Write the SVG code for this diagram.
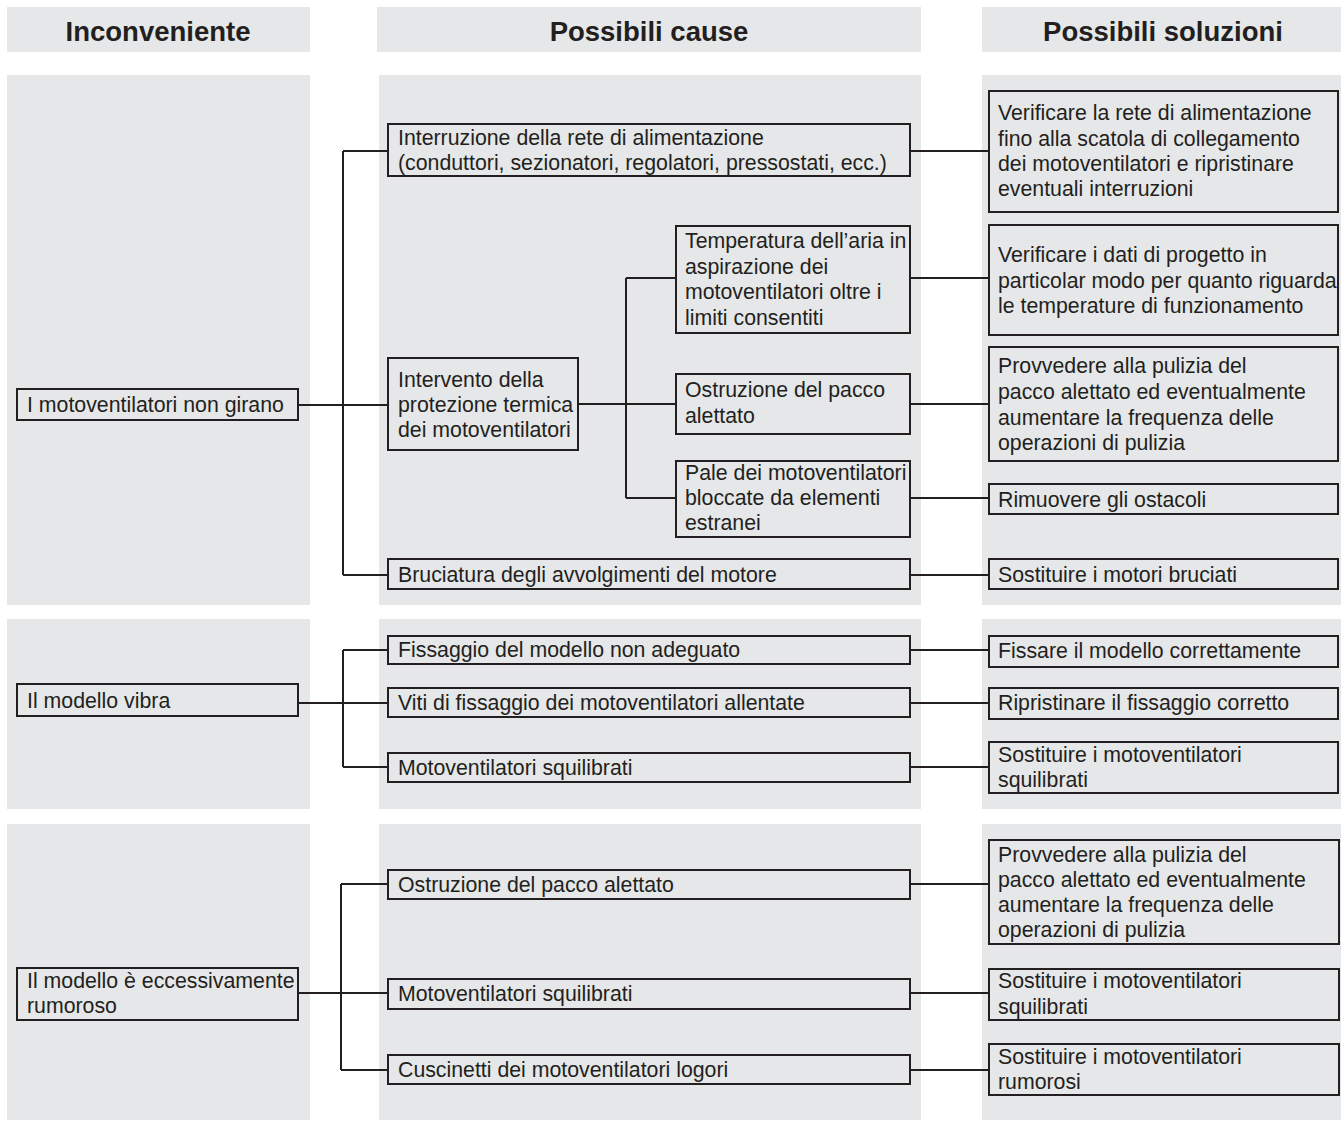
<svg xmlns="http://www.w3.org/2000/svg" width="1344" height="1121" viewBox="0 0 1344 1121">
<style>
.bg{fill:#ffffff}
.panel{fill:#e6e7e8}
.box{fill:none;stroke:#231f20;stroke-width:2}
.t{font-family:"Liberation Sans",Arial,sans-serif;font-size:21.3px;fill:#231f20}
.h{font-family:"Liberation Sans",Arial,sans-serif;font-size:27.5px;font-weight:bold;fill:#231f20;text-anchor:middle}
.c{fill:none;stroke:#231f20;stroke-width:2}
</style>
<rect class="bg" x="0" y="0" width="1344" height="1121"/>
<g id="panels">
<rect class="panel" x="7" y="7" width="303" height="45"/>
<rect class="panel" x="377" y="7" width="544" height="45"/>
<rect class="panel" x="982" y="7" width="359" height="45"/>
<rect class="panel" x="7" y="75" width="303" height="530"/>
<rect class="panel" x="379" y="75" width="542" height="530"/>
<rect class="panel" x="982" y="75" width="359" height="530"/>
<rect class="panel" x="7" y="619" width="303" height="190"/>
<rect class="panel" x="379" y="619" width="542" height="190"/>
<rect class="panel" x="982" y="619" width="359" height="190"/>
<rect class="panel" x="7" y="824" width="303" height="296"/>
<rect class="panel" x="379" y="824" width="542" height="296"/>
<rect class="panel" x="982" y="824" width="359" height="296"/>
</g>
<g id="headers">
<text class="h" x="158" y="41">Inconveniente</text>
<text class="h" x="649" y="41">Possibili cause</text>
<text class="h" x="1163" y="41">Possibili soluzioni</text>
</g>
<g id="connectors">
<path class="c" d="M298,405 H388 M343,151 V575 M343,151 H388 M343,575 H388"/>
<path class="c" d="M578,404 H676 M626,278 V498 M626,278 H676 M626,498 H676"/>
<path class="c" d="M910,151 H989 M910,278 H989 M910,404 H989 M910,498 H989 M910,575 H989"/>
<path class="c" d="M298,703 H388 M343,650 V767 M343,650 H388 M343,767 H388"/>
<path class="c" d="M910,650 H989 M910,703 H989 M910,767 H989"/>
<path class="c" d="M298,993 H388 M341,884 V1070 M341,884 H388 M341,1070 H388"/>
<path class="c" d="M910,884 H989 M910,993 H989 M910,1070 H989"/>
</g>
<g id="n1"><rect class="box" x="17" y="389" width="281" height="31"/><text class="t" x="27" y="412">I motoventilatori non girano</text></g>
<g id="c1a"><rect class="box" x="388" y="124" width="522" height="52"/><text class="t"><tspan x="398" y="145">Interruzione della rete di alimentazione</tspan><tspan x="398" y="170">(conduttori, sezionatori, regolatori, pressostati, ecc.)</tspan></text></g>
<g id="c1b"><rect class="box" x="388" y="358" width="190" height="92"/><text class="t"><tspan x="398" y="387">Intervento della</tspan><tspan x="398" y="412">protezione termica</tspan><tspan x="398" y="437">dei motoventilatori</tspan></text></g>
<g id="c1b1"><rect class="box" x="676" y="226" width="234" height="107"/><text class="t"><tspan x="685" y="248">Temperatura dell’aria in</tspan><tspan x="685" y="274">aspirazione dei</tspan><tspan x="685" y="299">motoventilatori oltre i</tspan><tspan x="685" y="325">limiti consentiti</tspan></text></g>
<g id="c1b2"><rect class="box" x="676" y="374" width="234" height="60"/><text class="t"><tspan x="685" y="397">Ostruzione del pacco</tspan><tspan x="685" y="423">alettato</tspan></text></g>
<g id="c1b3"><rect class="box" x="676" y="461" width="234" height="76"/><text class="t"><tspan x="685" y="480">Pale dei motoventilatori</tspan><tspan x="685" y="505">bloccate da elementi</tspan><tspan x="685" y="530">estranei</tspan></text></g>
<g id="c1c"><rect class="box" x="388" y="559" width="522" height="30"/><text class="t" x="398" y="582">Bruciatura degli avvolgimenti del motore</text></g>
<g id="s1a"><rect class="box" x="989" y="91" width="349" height="121"/><text class="t"><tspan x="998" y="120">Verificare la rete di alimentazione</tspan><tspan x="998" y="146">fino alla scatola di collegamento</tspan><tspan x="998" y="171">dei motoventilatori e ripristinare</tspan><tspan x="998" y="196">eventuali interruzioni</tspan></text></g>
<g id="s1b"><rect class="box" x="989" y="225" width="349" height="110"/><text class="t"><tspan x="998" y="262">Verificare i dati di progetto in</tspan><tspan x="998" y="288">particolar modo per quanto riguarda</tspan><tspan x="998" y="313">le temperature di funzionamento</tspan></text></g>
<g id="s1c"><rect class="box" x="989" y="347" width="349" height="114"/><text class="t"><tspan x="998" y="373">Provvedere alla pulizia del</tspan><tspan x="998" y="399">pacco alettato ed eventualmente</tspan><tspan x="998" y="425">aumentare la frequenza delle</tspan><tspan x="998" y="450">operazioni di pulizia</tspan></text></g>
<g id="s1d"><rect class="box" x="989" y="484" width="349" height="30"/><text class="t" x="998" y="507">Rimuovere gli ostacoli</text></g>
<g id="s1e"><rect class="box" x="989" y="559" width="349" height="30"/><text class="t" x="998" y="582">Sostituire i motori bruciati</text></g>
<g id="n2"><rect class="box" x="17" y="684" width="281" height="32"/><text class="t" x="27" y="708">Il modello vibra</text></g>
<g id="c2a"><rect class="box" x="388" y="636" width="522" height="28"/><text class="t" x="398" y="657">Fissaggio del modello non adeguato</text></g>
<g id="c2b"><rect class="box" x="388" y="688" width="522" height="29"/><text class="t" x="398" y="710">Viti di fissaggio dei motoventilatori allentate</text></g>
<g id="c2c"><rect class="box" x="388" y="753" width="522" height="29"/><text class="t" x="398" y="775">Motoventilatori squilibrati</text></g>
<g id="s2a"><rect class="box" x="989" y="636" width="349" height="31"/><text class="t" x="998" y="658">Fissare il modello correttamente</text></g>
<g id="s2b"><rect class="box" x="989" y="688" width="349" height="31"/><text class="t" x="998" y="710">Ripristinare il fissaggio corretto</text></g>
<g id="s2c"><rect class="box" x="989" y="742" width="349" height="51"/><text class="t"><tspan x="998" y="762">Sostituire i motoventilatori</tspan><tspan x="998" y="787">squilibrati</tspan></text></g>
<g id="n3"><rect class="box" x="17" y="968" width="281" height="52"/><text class="t"><tspan x="27" y="988">Il modello è eccessivamente</tspan><tspan x="27" y="1013">rumoroso</tspan></text></g>
<g id="c3a"><rect class="box" x="388" y="870" width="522" height="29"/><text class="t" x="398" y="892">Ostruzione del pacco alettato</text></g>
<g id="c3b"><rect class="box" x="388" y="979" width="522" height="30"/><text class="t" x="398" y="1001">Motoventilatori squilibrati</text></g>
<g id="c3c"><rect class="box" x="388" y="1055" width="522" height="29"/><text class="t" x="398" y="1077">Cuscinetti dei motoventilatori logori</text></g>
<g id="s3a"><rect class="box" x="989" y="840" width="350" height="104"/><text class="t"><tspan x="998" y="862">Provvedere alla pulizia del</tspan><tspan x="998" y="887">pacco alettato ed eventualmente</tspan><tspan x="998" y="912">aumentare la frequenza delle</tspan><tspan x="998" y="937">operazioni di pulizia</tspan></text></g>
<g id="s3b"><rect class="box" x="989" y="969" width="350" height="51"/><text class="t"><tspan x="998" y="988">Sostituire i motoventilatori</tspan><tspan x="998" y="1014">squilibrati</tspan></text></g>
<g id="s3c"><rect class="box" x="989" y="1044" width="350" height="51"/><text class="t"><tspan x="998" y="1064">Sostituire i motoventilatori</tspan><tspan x="998" y="1089">rumorosi</tspan></text></g>
</svg>
